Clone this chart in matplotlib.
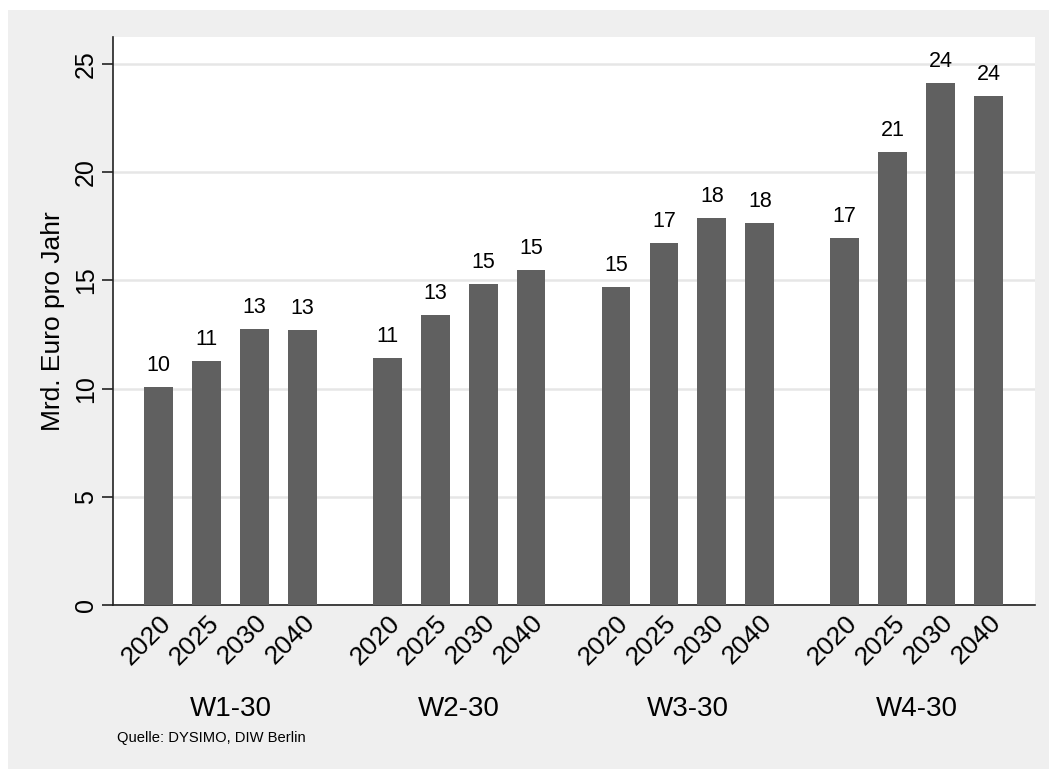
import numpy as np
import matplotlib.pyplot as plt
from matplotlib.patches import Rectangle

plt.rcParams['font.family'] = ['Liberation Sans', 'DejaVu Sans']

szenarien = ['W1-30', 'W2-30', 'W3-30', 'W4-30']
jahre = ['2020', '2025', '2030', '2040']
w1 = [10.06, 11.28, 12.75, 12.71]
w2 = [11.41, 13.40, 14.83, 15.48]
w3 = [14.70, 16.73, 17.88, 17.65]
w4 = [16.96, 20.93, 24.12, 23.52]
werte = [w1, w2, w3, w4]

W, H = 1049, 769
fig = plt.figure(figsize=(W / 100, H / 100), dpi=100, facecolor='white')
fig.patches.append(Rectangle((8 / W, 0), 1 - 8 / W, 1 - 10 / H,
                             transform=fig.transFigure, facecolor='#efefef',
                             edgecolor='none', zorder=-10))

# plot region in pixels: x 113..1035, y 37..605
ax = fig.add_axes([113 / W, 1 - 605 / H, (1035 - 113) / W, (605 - 37) / H])
ax.set_facecolor('white')

gruppen_abstand = 229 / 48
farbe = '#606060'
xs_all, labels_all = [], []
for g, (name, vals) in enumerate(zip(szenarien, werte)):
    xs = g * gruppen_abstand + np.arange(len(jahre))
    ax.bar(xs, vals, width=0.6, color=farbe, zorder=3)
    for x, v in zip(xs, vals):
        ax.text(x, v + 0.5, f'{v:.0f}', ha='center', va='bottom', fontsize=15.5, zorder=4)
    xs_all.extend(xs)
    labels_all.extend(jahre)
    ax.text(xs.mean(), -4.8, name, ha='center', va='center', fontsize=20)

ax.set_xlim(-0.95, 3 * gruppen_abstand + 3 + 0.97)
ax.set_ylim(0, 25 + 27 / 21.64)
ax.set_yticks([0, 5, 10, 15, 20, 25])
ax.set_yticklabels(['0', '5', '10', '15', '20', '25'], rotation=90, va='center', fontsize=18)
ax.set_xticks(xs_all)
ax.set_xticklabels(labels_all, rotation=45, ha='right', rotation_mode='anchor', fontsize=19)
ax.tick_params(axis='x', length=0, pad=4)
ax.tick_params(axis='y', length=8, width=1.2, color='#222222', pad=3)
ax.grid(axis='y', color='#e6e6e6', linewidth=1.8, zorder=0)
ax.set_ylabel('Mrd. Euro pro Jahr', fontsize=19, labelpad=6)

for s in ['top', 'right']:
    ax.spines[s].set_visible(False)
for s in ['left', 'bottom']:
    ax.spines[s].set_linewidth(1.2)
    ax.spines[s].set_color('#222222')

fig.text(117 / W, 1 - 738 / H, 'Quelle: DYSIMO, DIW Berlin', fontsize=10.6, va='center')

fig.savefig('out.png', dpi=100, facecolor=fig.get_facecolor())
